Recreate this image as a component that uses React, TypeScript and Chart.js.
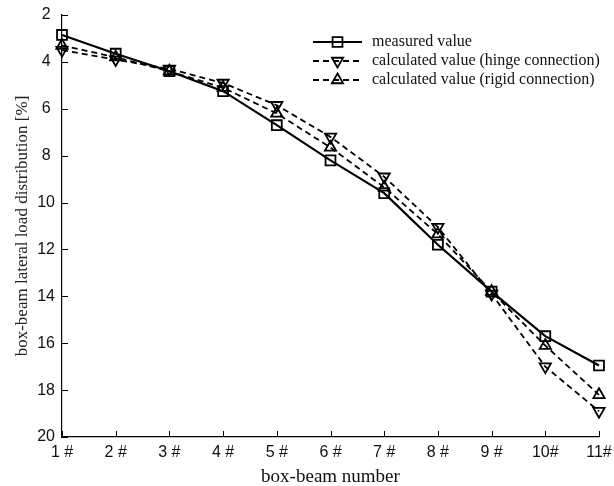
import React, { useEffect, useRef } from "react";
import { Chart, registerables } from "chart.js";

Chart.register(...registerables);

const categories = ["1 #", "2 #", "3 #", "4 #", "5 #", "6 #", "7 #", "8 #", "9 #", "10#", "11#"];
const measured = [2.85, 3.65, 4.4, 5.25, 6.7, 8.2, 9.6, 11.8, 13.8, 15.7, 16.95];
const hinge = [3.5, 3.9, 4.3, 4.9, 5.85, 7.2, 8.9, 11.05, 13.9, 17.0, 18.9];
const rigid = [3.3, 3.8, 4.4, 5.1, 6.2, 7.65, 9.35, 11.35, 13.8, 16.1, 18.2];
const seriesNames = [
  "measured value",
  "calculated value (hinge connection)",
  "calculated value (rigid connection)",
];
const yMin = 2;
const yMax = 20;
const yStep = 2;

const TICK_FONT = { family: "'Liberation Sans', Arial, sans-serif", size: 16 };
const SERIF = "'Liberation Serif', 'Times New Roman', serif";

function drawMarker(ctx: CanvasRenderingContext2D, style: string, rot: number, x: number, y: number, r: number) {
  ctx.beginPath();
  if (style === "rect") {
    const s = Math.SQRT1_2 * r;
    ctx.rect(x - s, y - s, 2 * s, 2 * s);
  } else {
    let rad = (rot * Math.PI) / 180;
    ctx.moveTo(x + Math.sin(rad) * r, y - Math.cos(rad) * r);
    rad += (2 * Math.PI) / 3;
    ctx.lineTo(x + Math.sin(rad) * r, y - Math.cos(rad) * r);
    rad += (2 * Math.PI) / 3;
    ctx.lineTo(x + Math.sin(rad) * r, y - Math.cos(rad) * r);
    ctx.closePath();
  }
  ctx.stroke();
}

const inwardTicks = {
  id: "inwardTicks",
  afterDraw(chart: any) {
    const ctx = chart.ctx as CanvasRenderingContext2D;
    const xs = chart.scales.x;
    const ys = chart.scales.y;
    const area = chart.chartArea;
    ctx.save();
    ctx.strokeStyle = "#000";
    ctx.lineWidth = 1;
    ys.ticks.forEach((t: any) => {
      const py = Math.round(ys.getPixelForValue(t.value)) + 0.5;
      ctx.beginPath();
      ctx.moveTo(area.left, py);
      ctx.lineTo(area.left + 6, py);
      ctx.stroke();
    });
    categories.forEach((_, i) => {
      const px = Math.round(xs.getPixelForValue(i)) + 0.5;
      ctx.beginPath();
      ctx.moveTo(px, area.bottom);
      ctx.lineTo(px, area.bottom - 6);
      ctx.stroke();
    });
    ctx.restore();
  },
};

const customLegend = {
  id: "customLegend",
  afterDraw(chart: any) {
    const ctx = chart.ctx as CanvasRenderingContext2D;
    const rows = [42, 61, 80];
    const x0 = 313;
    const x1 = 362;
    const tx = 372;
    ctx.save();
    chart.data.datasets.forEach((ds: any, i: number) => {
      const y = rows[i];
      ctx.strokeStyle = "#000";
      ctx.lineWidth = ds.borderWidth;
      ctx.setLineDash(ds.borderDash || []);
      ctx.beginPath();
      ctx.moveTo(x0, y);
      ctx.lineTo(x1, y);
      ctx.stroke();
      ctx.setLineDash([]);
      ctx.lineWidth = ds.pointBorderWidth;
      drawMarker(ctx, ds.pointStyle, ds.pointRotation || 0, (x0 + x1) / 2, y, ds.pointRadius);
      ctx.fillStyle = "#111";
      ctx.font = `16px ${SERIF}`;
      ctx.textBaseline = "middle";
      ctx.textAlign = "left";
      ctx.fillText(ds.label, tx, y);
    });
    ctx.restore();
  },
};

export default function App() {
  const ref = useRef<HTMLCanvasElement>(null);
  useEffect(() => {
    if (!ref.current) return;
    const common = {
      borderColor: "#000",
      pointBorderColor: "#000",
      pointBackgroundColor: "rgba(0,0,0,0)",
      pointBorderWidth: 1.8,
      fill: false,
      tension: 0,
      clip: false as any,
    };
    const chart = new Chart(ref.current, {
      type: "line",
      data: {
        labels: categories,
        datasets: [
          { ...common, label: seriesNames[0], data: measured, borderWidth: 2.2, pointStyle: "rect", pointRadius: 7, pointRotation: 0 },
          { ...common, label: seriesNames[1], data: hinge, borderWidth: 1.8, borderDash: [6, 4], pointStyle: "triangle", pointRadius: 6.5, pointRotation: 180 },
          { ...common, label: seriesNames[2], data: rigid, borderWidth: 1.8, borderDash: [6, 4], pointStyle: "triangle", pointRadius: 6.5, pointRotation: 0 },
        ],
      },
      options: {
        animation: false,
        responsive: false,
        layout: { padding: { top: 15, right: 15, left: 0, bottom: 0 } },
        plugins: { legend: { display: false }, tooltip: { enabled: false } },
        scales: {
          x: {
            type: "category",
            offset: false,
            grid: { display: false, drawTicks: false },
            border: { display: true, color: "#000", width: 1.2 },
            ticks: { color: "#111", font: TICK_FONT, padding: 6, maxRotation: 0, autoSkip: false },
            title: { display: true, text: "box-beam number", color: "#111", font: { family: SERIF, size: 19 }, padding: { top: 0, bottom: -2 } },
            afterFit: (s: any) => {
              s.height = 49;
              s.paddingLeft = 0;
              s.paddingRight = 0;
            },
          },
          y: {
            type: "linear",
            reverse: true,
            min: yMin,
            max: yMax,
            grid: { display: false, drawTicks: false },
            border: { display: true, color: "#000", width: 1.2 },
            ticks: { stepSize: yStep, color: "#111", font: TICK_FONT, padding: 7, crossAlign: "center" },
            title: { display: true, text: "box-beam lateral load distribution [%]", color: "#222", font: { family: SERIF, size: 17 }, padding: { top: 12, bottom: 0 } },
            afterFit: (s: any) => {
              s.width = 62;
              s.paddingTop = 0;
              s.paddingBottom = 0;
            },
          },
        },
      },
      plugins: [inwardTicks, customLegend],
    });
    return () => chart.destroy();
  }, []);
  return (
    <div style={{ position: "fixed", left: 0, top: 0, width: 614, height: 486, background: "#fff" }}>
      <canvas ref={ref} width={614} height={486} style={{ display: "block" }} />
    </div>
  );
}
